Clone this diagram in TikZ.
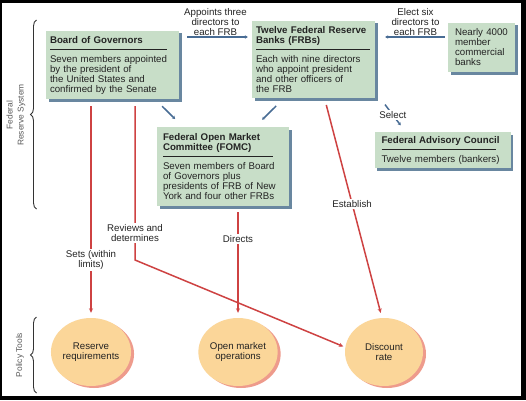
\documentclass[tikz,border=0pt]{standalone}
\usepackage{fontspec}
\setmainfont{Liberation Sans}
\usetikzlibrary{positioning,shadows,shapes.geometric,decorations.pathreplacing,arrows.meta}

\definecolor{fedgreen}{RGB}{200,222,200}
\definecolor{fedshade}{RGB}{105,135,160}
\definecolor{toolfill}{RGB}{251,214,153}
\definecolor{toolshade}{RGB}{238,155,140}
\definecolor{fedred}{RGB}{206,66,66}
\definecolor{fedblue}{RGB}{72,108,148}
\definecolor{fedtext}{RGB}{35,35,35}

\newcommand{\boxhead}[2]{#1\\\rule[3.5pt]{#2}{0.8pt}\\[-1pt]}

\begin{document}
\begin{tikzpicture}[x=1pt, y=1pt, font=\fontsize{9.7}{10}\selectfont, text=fedtext,
fedbox/.style={rectangle, fill=fedgreen, align=left, inner sep=0pt,
  drop shadow={shadow xshift=2.5pt, shadow yshift=-2.5pt, fill=fedshade, opacity=1}},
toolnode/.style={ellipse, fill=toolfill, minimum width=78pt, minimum height=68pt, align=center, inner sep=0pt,
  drop shadow={shadow xshift=3pt, shadow yshift=-2pt, fill=toolshade, opacity=1}},
lbl/.style={align=center, fill=white, inner sep=1.5pt},
toplbl/.style={align=center, inner sep=1pt},
sidelbl/.style={align=center, rotate=90, text=black!65, font=\fontsize{8.4}{11}\selectfont},
redarrow/.style={draw=fedred, line width=1.5pt, -{Stealth[length=4.5pt,width=4pt]}},
bluearrow/.style={draw=fedblue, line width=1.5pt, -{Stealth[length=3pt,width=3.5pt]}},
sidebrace/.style={draw=black!80, line width=0.9pt, decorate, decoration={brace, amplitude=6pt}},
]
\useasboundingbox (0,0) rectangle (526,400);
\fill[black] (0,0) rectangle (526,400);
\fill[white] (2,4) rectangle (521,397);

%Boxes
\node[fedbox, text width=125pt, minimum width=133pt, minimum height=68pt] (board) at (112.5,335)
  {\boxhead{\textbf{Board of Governors}}{117pt}Seven members appointed\\by the president of\\the United States and\\confirmed by the Senate};
\node[fedbox, text width=115pt, minimum width=123pt, minimum height=77pt] (frb) at (313.5,340.5)
  {\textbf{Twelve Federal Reserve}\\\boxhead{\textbf{Banks (FRBs)}}{114pt}Each with nine directors\\who appoint president\\and other officers of\\the FRB};
\node[fedbox, text width=53pt, minimum width=67pt, minimum height=49pt] (banks) at (481.5,352.5)
  {Nearly 4000\\member\\commercial\\banks};
\node[fedbox, text width=120pt, minimum width=132pt, minimum height=79pt] (fomc) at (223,233.5)
  {\textbf{Federal Open Market}\\\boxhead{\textbf{Committee (FOMC)}}{110pt}Seven members of Board\\of Governors plus\\presidents of FRB of New\\York and four other FRBs};
\node[fedbox, text width=122pt, minimum width=136pt, minimum height=36pt] (fac) at (442.5,250)
  {\boxhead{\textbf{Federal Advisory Council}}{114pt}Twelve members (bankers)};

%Policy tools
\node[toolnode] (reserve) at (91,48) {Reserve\\requirements};
\node[toolnode] (openmkt) at (238,48) {Open market\\operations};
\node[toolnode] (discount) at (384,48) {Discount\\rate};

%Braces
\draw[sidebrace] (36.5,191) -- (36.5,380);
\draw[sidebrace] (36.5,7) -- (36.5,83);
\node[sidelbl] (fedlbl) at (16,285) {Federal\\Reserve System};
\node[sidelbl] (toollbl) at (20,45) {Policy Tools};

%Blue lines
\draw[bluearrow, shorten <=8pt, shorten >=4pt] (board.east |- 0,363) -- node[toplbl, above=0pt] (apptlbl) {Appoints three\\directors to\\each FRB} (frb.west |- 0,363);
\draw[bluearrow, shorten <=3pt, shorten >=10pt] (banks.west |- 0,363) -- node[toplbl, above=0pt, xshift=4pt] (electlbl) {Elect six\\directors to\\each FRB} (frb.east |- 0,363);
\draw[bluearrow, shorten <=10pt, shorten >=11pt] ([xshift=42.5pt]board.south) -- ([xshift=-40pt]fomc.north);
\draw[bluearrow, shorten <=11pt, shorten >=10pt] ([xshift=-29.5pt]frb.south) -- ([xshift=32pt]fomc.north);
\draw[bluearrow, shorten <=8pt, shorten >=8pt] ([xshift=5pt]frb.south east) -- node[lbl] (sellbl) {Select} ([xshift=-37pt]fac.north);

%Red lines
\coordinate (rvbend) at (135,140);
\draw[redarrow, shorten <=7pt, shorten >=5pt] (board.south -| reserve) -- node[lbl, pos=0.735] (setslbl) {Sets (within\\limits)} (reserve.north);
\draw[redarrow, shorten <=7pt, shorten >=2pt] (board.south -| rvbend) -- node[lbl, pos=0.83] (rvlbl) {Reviews and\\determines} (rvbend) -- (discount.173);
\draw[redarrow, shorten <=6pt, shorten >=5pt] (fomc.south -| openmkt) -- node[lbl, pos=0.29] (dirlbl) {Directs} (openmkt.north);
\draw[redarrow, shorten <=7pt, shorten >=5pt] ([xshift=11pt]frb.south) -- node[lbl, pos=0.48] (estlbl) {Establish} ([xshift=-2pt]discount.north);
\end{tikzpicture}
\end{document}
